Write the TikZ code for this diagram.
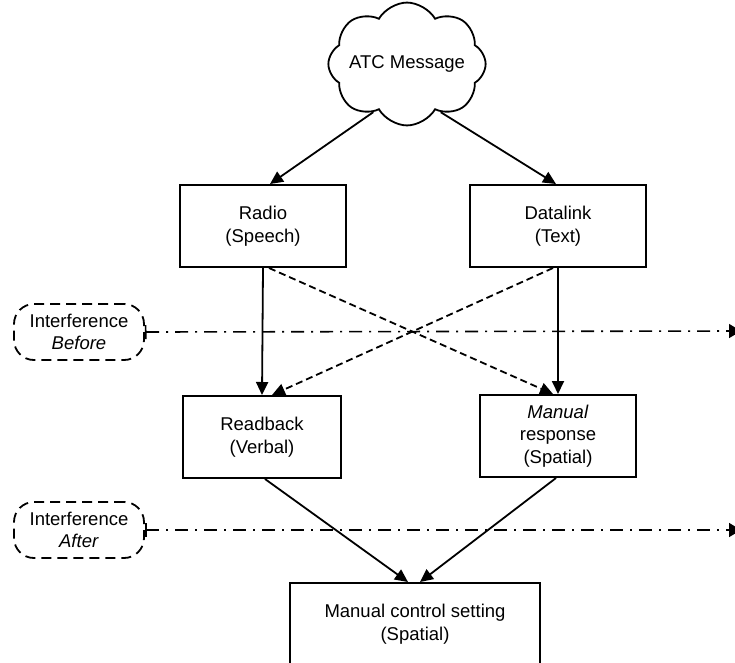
\documentclass[tikz,border=0pt]{standalone}
\usepackage{fontspec}
\setmainfont{Liberation Sans}
\usetikzlibrary{arrows.meta,shapes.symbols}
\begin{document}
\begin{tikzpicture}[x=1pt,y=-1pt,line width=1.8pt,
  every node/.style={font=\fontsize{18.5}{22.5}\selectfont,align=center},
  box/.style={draw,line width=2pt,minimum height=82pt,inner sep=0pt},
  intf/.style={draw,dashed,dash pattern=on 10pt off 6pt,rounded corners=20pt,line width=1.8pt,minimum width=130pt,minimum height=56pt,inner sep=0pt},
  tip/.style={-{Triangle[length=13pt,width=12pt]}},
  cross/.style={tip,dashed,dash pattern=on 7pt off 4pt},
  level/.style={{Bar[width=14pt]}-{Triangle[length=12pt,width=14pt]},line width=1.6pt,dash pattern=on 13pt off 7pt on 2pt off 7pt}]
\useasboundingbox (0,0) rectangle (735,662);
\node[draw,cloud,cloud puffs=8,cloud puff arc=120,aspect=1.5,minimum width=150pt,minimum height=95pt,inner sep=-6pt,line width=1.8pt] (atc) at (407,64) {ATC Message};
\node[box,minimum width=166pt] (radio) at (263,226) {Radio\\(Speech)};
\node[box,minimum width=176pt] (dlink) at (558,226) {Datalink\\(Text)};
\node[box,minimum width=158pt] (rback) at (262,437) {Readback\\(Verbal)};
\node[box,minimum width=156pt] (mresp) at (558,436) {\textit{Manual}\\response\\(Spatial)};
\node[box,minimum width=250pt] (mcs) at (415,624) {Manual control setting\\(Spatial)};
\node[intf] (ibefore) at (79,332) {Interference\\\textit{Before}};
\node[intf] (iafter) at (79,530) {Interference\\\textit{After}};
\coordinate (endb) at (741,331);
\coordinate (enda) at (741,530);
% message to channels
\draw[tip] (atc.235) -- ([xshift=7pt]radio.north);
\draw[tip] (atc.305) -- ([xshift=-2pt]dlink.north);
% channel to response
\draw[tip] (radio.south) -- (rback.north);
\draw[tip] (dlink.south) -- (mresp.north);
\draw[cross] ([xshift=6pt]radio.south) -- ([xshift=-5pt]mresp.north);
\draw[cross] ([xshift=-5pt]dlink.south) -- ([xshift=10pt]rback.north);
% responses to setting
\draw[tip] ([xshift=3pt]rback.south) -- ([xshift=-7pt]mcs.north);
\draw[tip] ([xshift=-2pt]mresp.south) -- ([xshift=5pt]mcs.north);
% interference levels
\draw[level] (ibefore.east) -- (endb);
\draw[level] (iafter.east) -- (enda);
\end{tikzpicture}
\end{document}
